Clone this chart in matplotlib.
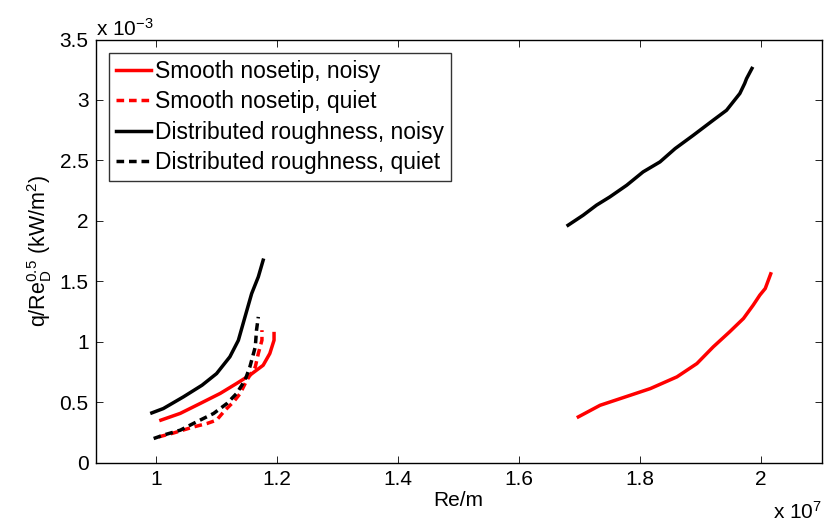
import numpy as np
import matplotlib.pyplot as plt

plt.rcParams['font.family'] = ['Liberation Sans', 'DejaVu Sans']
plt.rcParams['mathtext.default'] = 'regular'

# Re/m in units of 1e7, q/Re_D^0.5 in units of 1e-3 kW/m^2
re_smooth_noisy_lo = [1.008, 1.040, 1.073, 1.106, 1.133, 1.155, 1.177, 1.188, 1.195, 1.195]
q_smooth_noisy_lo = [0.352, 0.408, 0.490, 0.573, 0.655, 0.724, 0.806, 0.903, 1.013, 1.068]

re_smooth_noisy_hi = [1.698, 1.734, 1.784, 1.817, 1.861, 1.894, 1.921, 1.948, 1.971, 1.987, 1.998, 2.007, 2.016]
q_smooth_noisy_hi = [0.379, 0.475, 0.558, 0.613, 0.710, 0.820, 0.958, 1.082, 1.193, 1.303, 1.386, 1.441, 1.562]

re_smooth_quiet = [1.004, 1.029, 1.062, 1.084, 1.100, 1.114, 1.128, 1.139, 1.150, 1.164, 1.169, 1.175, 1.175]
q_smooth_quiet = [0.213, 0.246, 0.296, 0.324, 0.352, 0.434, 0.503, 0.572, 0.682, 0.792, 0.903, 1.013, 1.096]

re_rough_noisy_lo = [0.993, 1.012, 1.045, 1.076, 1.100, 1.122, 1.136, 1.147, 1.158, 1.169, 1.177]
q_rough_noisy_lo = [0.412, 0.448, 0.544, 0.641, 0.737, 0.876, 1.012, 1.206, 1.399, 1.537, 1.675]

re_rough_noisy_hi = [1.681, 1.706, 1.728, 1.750, 1.778, 1.805, 1.833, 1.858, 1.888, 1.921, 1.943, 1.965, 1.973, 1.976, 1.985]
q_rough_noisy_hi = [1.964, 2.047, 2.130, 2.198, 2.295, 2.405, 2.488, 2.598, 2.708, 2.833, 2.915, 3.054, 3.137, 3.176, 3.261]

re_rough_quiet = [0.996, 1.012, 1.040, 1.067, 1.095, 1.117, 1.133, 1.147, 1.155, 1.164, 1.166, 1.169]
q_rough_quiet = [0.200, 0.228, 0.269, 0.338, 0.407, 0.489, 0.572, 0.682, 0.792, 0.958, 1.096, 1.206]

labels = ['Smooth nosetip, noisy', 'Smooth nosetip, quiet',
          'Distributed roughness, noisy', 'Distributed roughness, quiet']

fig = plt.figure(figsize=(8.24, 5.27), dpi=100)
ax = fig.add_axes([0.116, 0.122, 0.881, 0.803])

lw = 2.5
dash = (2.2, 1.4)  # scaled by line width
ax.plot(re_smooth_noisy_lo, q_smooth_noisy_lo, '-', color='red', lw=lw, label=labels[0])
ax.plot(re_smooth_noisy_hi, q_smooth_noisy_hi, '-', color='red', lw=lw)
ax.plot(re_smooth_quiet, q_smooth_quiet, '--', dashes=dash, color='red', lw=lw, label=labels[1])
ax.plot(re_rough_noisy_lo, q_rough_noisy_lo, '-', color='black', lw=lw, label=labels[2])
ax.plot(re_rough_noisy_hi, q_rough_noisy_hi, '-', color='black', lw=lw)
ax.plot(re_rough_quiet, q_rough_quiet, '--', dashes=dash, color='black', lw=lw, label=labels[3])

ax.set_xlim(0.9, 2.1)
ax.set_ylim(0, 3.5)
ax.set_xticks(np.arange(1.0, 2.01, 0.2))
ax.set_xticklabels(['1', '1.2', '1.4', '1.6', '1.8', '2'])
ax.set_yticks(np.arange(0, 3.51, 0.5))
ax.set_yticklabels(['0', '0.5', '1', '1.5', '2', '2.5', '3', '3.5'])
ax.tick_params(direction='in', length=5, width=0.6, labelsize=15,
               top=True, right=True, pad=5)
for s in ax.spines.values():
    s.set_linewidth(1.0)

ax.set_xlabel('Re/m', fontsize=15, labelpad=2)
ax.set_ylabel(r'q/Re$_D^{0.5}$ (kW/m$^2$)', fontsize=15.5, labelpad=4)

ax.text(0.0, 1.0, r'x 10$^{-3}$', transform=ax.transAxes, fontsize=15,
        ha='left', va='bottom')
ax.text(1.0, -0.09, r'x 10$^{7}$', transform=ax.transAxes, fontsize=15,
        ha='right', va='top')

leg = ax.legend(loc='upper left', bbox_to_anchor=(0.019, 0.968), fontsize=16.5,
                frameon=True, fancybox=False, edgecolor='black',
                handlelength=1.5, handletextpad=0.2, borderpad=0.3,
                borderaxespad=0, labelspacing=0.32)
leg.get_frame().set_linewidth(1.0)

fig.savefig('out.png', dpi=100)
